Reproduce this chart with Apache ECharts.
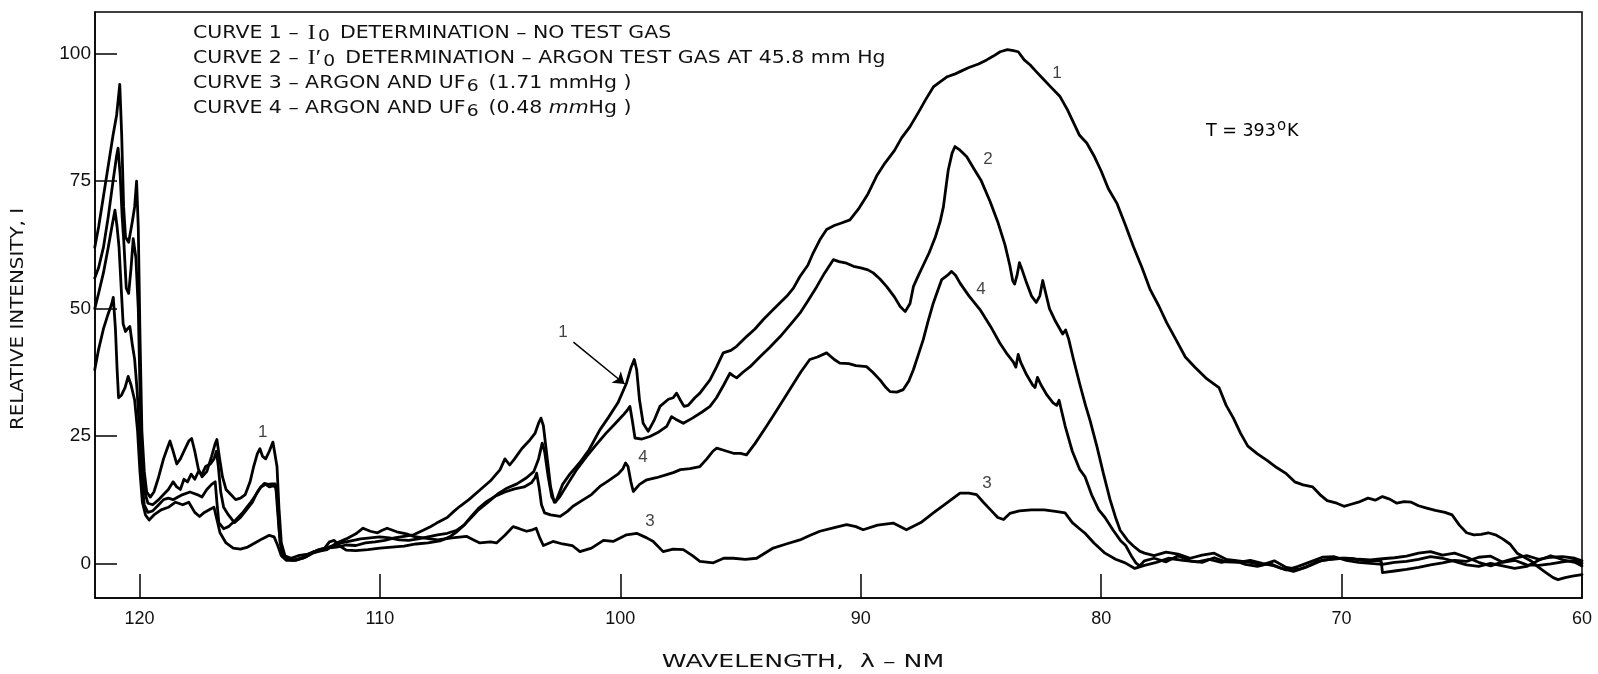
<!DOCTYPE html>
<html><head><meta charset="utf-8">
<script src="https://cdn.jsdelivr.net/npm/echarts@6/dist/echarts.min.js"></script>
<style>html,body{margin:0;padding:0;background:#fff}#c{width:1598px;height:674px}</style>
</head><body><div id="c"></div>
<script>
// ---- data: [wavelength nm, relative intensity] ----
const curve1 = [[121.86,62],[121.7,66],[121.5,72],[121.3,78],[121.1,84],[120.95,88],[120.82,94],[120.74,84],[120.66,70],[120.58,64],[120.45,63],[120.3,67],[120.2,70],[120.12,75],[120.05,66],[119.98,45],[119.9,26],[119.8,18],[119.7,14],[119.55,13],[119.4,14],[119.2,17],[119.0,20.5],[118.85,22.5],[118.73,24],[118.6,22],[118.45,19.5],[118.3,20.5],[118.1,22.5],[117.95,24],[117.83,24.5],[117.7,22],[117.55,18.5],[117.4,17],[117.2,18],[117.0,21],[116.85,23.5],[116.78,24.3],[116.68,21],[116.55,17],[116.4,14.5],[116.2,13.5],[116.0,12.5],[115.8,12.8],[115.6,13.5],[115.4,16],[115.25,19],[115.1,21.5],[114.99,22.5],[114.88,21],[114.75,20.5],[114.6,22],[114.45,23.8],[114.37,23.5],[114.28,19],[114.2,11],[114.1,4],[113.95,1.5],[113.7,1],[113.4,1.5],[113.0,1.8],[112.6,2.5],[112.2,3],[111.8,3.2],[111.4,3.6],[111.0,3.5],[110.6,4],[110.2,4.2],[109.8,4.5],[109.4,5],[109.0,5.3],[108.6,5.6],[108.2,6.5],[107.9,7.2],[107.64,7.9],[107.2,9],[106.9,10.3],[106.67,11.2],[106.3,12.5],[105.84,14.4],[105.4,16.2],[105.0,18.4],[104.8,20.5],[104.73,20.7],[104.6,19.3],[104.4,20.5],[104.1,22.5],[103.8,24],[103.55,25.5],[103.4,27.5],[103.3,28.5],[103.2,27],[103.05,21],[102.9,15],[102.75,12],[102.65,12.5],[102.4,15.5],[102.1,17.5],[101.7,19.7],[101.3,22.3],[100.85,26.2],[100.5,28.6],[100.1,31.5],[99.74,35.4],[99.55,38.5],[99.42,40],[99.32,38],[99.2,32],[99.05,27.5],[98.84,25.9],[98.6,28],[98.35,30.8],[98.0,32.2],[97.8,32.5],[97.66,33.4],[97.5,32],[97.35,30.8],[97.18,31],[96.9,32.5],[96.69,33.4],[96.27,36],[96.0,38.5],[95.72,41.3],[95.4,41.8],[95.16,42.6],[94.75,44.5],[94.4,46],[94.06,47.8],[93.64,49.8],[93.08,52.4],[92.8,54],[92.53,56.3],[92.2,58.5],[91.98,60.9],[91.7,63.5],[91.42,65.5],[91.1,66.3],[90.8,66.8],[90.45,67.4],[90.1,69.5],[89.7,72.5],[89.34,76],[89.0,78.5],[88.6,81],[88.3,83.5],[87.95,85.7],[87.6,88.5],[87.3,91],[86.98,93.5],[86.7,94.5],[86.4,95.5],[86.1,96],[85.87,96.5],[85.5,97.3],[85.1,98],[84.76,98.8],[84.5,99.5],[84.2,100.4],[83.9,100.8],[83.65,100.6],[83.45,100.4],[83.2,98.8],[82.95,97.8],[82.7,96.5],[82.4,95],[82.1,93.5],[81.71,91.6],[81.4,89],[81.15,86.5],[80.9,84],[80.6,82.5],[80.3,80],[80.0,77],[79.7,73.5],[79.35,70.7],[79.0,66.5],[78.66,62.2],[78.3,58],[77.96,53.7],[77.6,50.5],[77.27,47.2],[76.9,44],[76.5,40.5],[76.1,38.5],[75.6,36.2],[75.1,34.5],[74.8,31],[74.5,28.5],[74.2,25.5],[73.9,23],[73.5,21.5],[73.1,20.2],[72.7,18.8],[72.3,17.6],[71.95,16],[71.6,15.4],[71.2,15],[70.9,13.5],[70.6,12.3],[70.2,11.8],[69.9,11.2],[69.6,11.6],[69.3,12],[68.9,12.8],[68.6,12.4],[68.3,13.1],[68.0,12.6],[67.7,11.8],[67.4,12.1],[67.1,12],[66.8,11.3],[66.5,10.9],[66.1,10.4],[65.7,10],[65.4,9.5],[65.1,7.5],[64.8,6],[64.5,5.6],[64.2,5.7],[63.9,6.0],[63.6,5.6],[63.3,4.8],[63.0,3.8],[62.7,2.0],[62.4,1.2],[62.1,0.4],[61.8,-0.8],[61.5,-1.8],[61.2,-2.8],[61.0,-3.2],[60.7,-2.8],[60.4,-2.5],[60.0,-2.2]];

const curve2 = [[121.86,56],[121.7,58],[121.5,62],[121.3,68],[121.1,75],[120.95,80],[120.89,81.5],[120.8,76],[120.72,68],[120.65,63],[120.55,54],[120.45,53],[120.35,58],[120.26,63.7],[120.15,60],[120.05,50],[119.97,32],[119.88,20],[119.78,14],[119.65,11.8],[119.45,11.5],[119.2,12.5],[119.0,13.5],[118.8,14.5],[118.6,16],[118.45,15],[118.3,14.5],[118.15,16.5],[118.0,16],[117.85,17.5],[117.7,16.5],[117.55,18],[117.4,17.5],[117.25,19],[117.05,19.5],[116.9,20.5],[116.8,22],[116.72,19],[116.62,14],[116.5,11],[116.3,9.5],[116.05,8],[115.8,9],[115.55,10.5],[115.3,12],[115.1,14],[114.95,15],[114.8,15.7],[114.65,15.5],[114.5,15.6],[114.35,15.6],[114.27,13],[114.18,6],[114.08,2],[113.9,0.8],[113.6,0.6],[113.2,1.2],[112.8,2.2],[112.4,2.8],[112.0,3.4],[111.6,4],[111.2,4.4],[110.8,4.8],[110.4,5],[110.0,5.2],[109.6,5],[109.2,4.6],[108.8,4.5],[108.4,4.8],[108.0,5.2],[107.6,5.6],[107.2,5.9],[106.8,6.5],[106.5,7.5],[106.2,9],[105.9,10.5],[105.5,12],[105.1,13.6],[104.7,14.8],[104.3,15.6],[103.9,16.8],[103.6,18],[103.4,20.5],[103.25,23.6],[103.15,22],[103.0,17],[102.85,13],[102.7,12],[102.5,13.2],[102.2,15.5],[101.8,18.5],[101.4,21],[101.0,23.3],[100.6,25.5],[100.2,27.5],[99.9,29],[99.72,30],[99.6,30.8],[99.5,28],[99.39,24.6],[99.1,24.4],[98.77,24.9],[98.4,25.8],[98.07,26.9],[97.87,28.8],[97.7,28.3],[97.38,27.5],[97.0,28.5],[96.6,29.7],[96.27,30.8],[96.0,32.5],[95.7,35],[95.44,37.3],[95.3,36.8],[95.16,36.4],[94.9,37.5],[94.6,38.6],[94.2,40.5],[93.8,42.3],[93.35,44.5],[92.9,47],[92.53,49.1],[92.2,51.5],[91.83,54.3],[91.5,57],[91.14,59.6],[90.9,59.2],[90.59,58.9],[90.3,58.3],[90.0,58],[89.7,57.6],[89.48,57.0],[89.2,55.8],[88.92,54.3],[88.6,52.3],[88.36,50.4],[88.15,49.4],[87.95,51],[87.81,54.3],[87.6,56.5],[87.4,58.5],[87.15,61],[86.9,64],[86.7,67],[86.56,70],[86.45,74],[86.36,77.2],[86.2,80.5],[86.08,81.8],[85.9,81.2],[85.59,79.8],[85.3,77.5],[85.0,75.2],[84.62,71],[84.3,67],[84.0,62.5],[83.8,58.5],[83.68,55.5],[83.6,54.8],[83.5,56.5],[83.4,59],[83.28,57.5],[83.1,55],[82.9,52.5],[82.7,51.2],[82.55,52.5],[82.43,55.5],[82.33,53.5],[82.15,50],[81.9,47.5],[81.6,45],[81.48,45.8],[81.35,44],[81.15,40],[80.88,35],[80.65,31],[80.46,28],[80.18,23],[79.9,17.5],[79.63,12.5],[79.4,9],[79.21,6.5],[78.9,4.5],[78.66,3.4],[78.4,2.4],[78.2,2],[77.8,1.5],[77.3,2.2],[76.8,1.8],[76.3,1.0],[75.8,1.6],[75.3,2.0],[74.8,0.8],[74.3,0.5],[73.8,0.2],[73.3,-0.3],[72.8,0.5],[72.3,-0.8],[71.8,-1.2],[71.3,-0.4],[70.8,0.6],[70.3,0.9],[69.8,1.0],[69.3,0.8],[68.8,0.7],[68.3,0.9],[67.8,1.1],[67.3,1.4],[66.8,2.0],[66.3,2.3],[65.8,1.6],[65.3,2.0],[64.8,1.2],[64.3,0.2],[63.8,-0.5],[63.3,0.3],[62.8,1.0],[62.3,1.5],[61.8,0.8],[61.3,1.2],[60.8,1.3],[60.3,1.0],[60.0,0.5]];

const curve3 = [[121.86,38],[121.7,42],[121.5,46],[121.3,49],[121.15,51],[121.09,52.2],[121.0,46],[120.93,38],[120.87,32.5],[120.75,33],[120.6,34.5],[120.47,36.7],[120.35,35],[120.2,32],[120.08,26],[119.98,18],[119.88,12],[119.75,9.5],[119.6,8.5],[119.4,9.5],[119.1,10.5],[118.8,11],[118.5,12],[118.2,11.5],[117.95,12],[117.7,10],[117.5,9.2],[117.3,10],[117.1,10.5],[116.9,11],[116.8,9],[116.65,6],[116.4,4],[116.1,3],[115.8,2.8],[115.5,3.2],[115.2,4],[114.9,4.8],[114.6,5.5],[114.4,5.2],[114.25,3.5],[114.1,1.5],[113.9,0.6],[113.5,0.6],[113.1,1.2],[112.8,2.0],[112.5,2.4],[112.2,2.7],[111.8,4.0],[111.4,4.8],[111.0,5.8],[110.7,6.9],[110.4,6.3],[110.1,6.0],[109.9,6.5],[109.7,6.9],[109.3,6.2],[108.9,5.8],[108.6,5.3],[108.2,5],[107.6,4.6],[107.0,5],[106.4,5.3],[106.1,4.6],[105.84,4.0],[105.4,4.2],[105.15,4.0],[104.8,5.5],[104.46,7.2],[104.2,6.8],[103.9,6.3],[103.7,6.5],[103.5,6.9],[103.35,5],[103.2,3.5],[102.8,4.3],[102.4,3.8],[102.0,3.5],[101.68,2.3],[101.2,3],[100.7,4.5],[100.3,4.3],[99.74,5.6],[99.32,5.9],[98.9,5],[98.63,4.3],[98.22,2.3],[97.8,2.8],[97.38,2.7],[97.0,1.5],[96.69,0.4],[96.13,0.1],[95.7,1.0],[95.3,1.0],[94.8,0.8],[94.33,1.0],[93.64,3.0],[93.1,3.8],[92.53,4.6],[92.1,5.5],[91.7,6.3],[91.1,7],[90.59,7.6],[90.2,7.2],[89.9,6.6],[89.3,7.5],[88.65,7.9],[88.1,6.6],[87.5,8],[86.98,9.9],[86.43,11.8],[85.87,13.8],[85.5,13.8],[85.18,13.5],[84.9,12],[84.6,10.5],[84.3,9],[84.06,8.6],[83.8,9.8],[83.4,10.3],[82.9,10.5],[82.37,10.5],[81.9,10.2],[81.5,9.9],[81.2,8],[80.9,6.8],[80.67,5.9],[80.3,4],[79.84,2],[79.4,0.8],[79.0,0.1],[78.6,-1.0],[78.2,-0.4],[77.7,0.2],[77.2,1.0],[76.6,0.6],[76.0,0.3],[75.5,0.8],[75.0,0.2],[74.5,0.6],[74.0,-0.2],[73.5,-0.6],[73.0,0.0],[72.5,-1.0],[72.0,-1.6],[71.5,-0.8],[71.0,0.4],[70.5,0.8],[70.0,1.0],[69.5,0.9],[69.0,0.5],[68.5,0.6],[68.35,0.4],[68.3,-1.8],[67.8,-1.5],[67.3,-1.2],[66.8,-0.8],[66.3,-0.3],[65.8,0.1],[65.3,0.6],[64.8,0.4],[64.3,1.2],[63.8,1.4],[63.3,0.2],[62.8,0.6],[62.3,-0.3],[61.8,-0.4],[61.3,-0.1],[60.8,0.3],[60.3,0.6],[60.0,0.0]];

const curve4 = [[121.86,50],[121.7,53],[121.5,57],[121.3,62],[121.15,66],[121.02,69.3],[120.93,66],[120.85,62],[120.76,54],[120.68,47],[120.58,45.5],[120.5,46],[120.4,46.5],[120.3,43],[120.2,40],[120.1,34],[120.0,26],[119.9,16],[119.8,11.5],[119.65,10],[119.45,10.3],[119.2,11.5],[119.0,12.5],[118.8,12.8],[118.6,12.5],[118.4,13],[118.2,13.5],[117.9,14],[117.6,13.5],[117.4,13],[117.2,14.5],[117.0,15.5],[116.85,16],[116.78,12],[116.7,8],[116.5,6.8],[116.3,7.2],[116.0,8.5],[115.7,10],[115.4,11.8],[115.15,13.5],[114.95,15],[114.75,15.5],[114.6,15],[114.45,15.2],[114.33,15],[114.25,10],[114.15,4],[114.0,1.5],[113.8,0.8],[113.5,0.7],[113.2,1],[112.9,1.8],[112.6,2.6],[112.3,3],[112.1,4.2],[111.9,4.5],[111.7,3.5],[111.4,2.6],[111.0,2.5],[110.5,2.7],[110.0,3],[109.5,3.2],[109.0,3.4],[108.5,3.8],[108.0,4],[107.5,4.4],[107.1,5.2],[106.8,6.2],[106.5,7.5],[106.2,9.2],[105.9,10.8],[105.6,12],[105.2,13.2],[104.8,14],[104.4,14.6],[104.0,15],[103.7,15.8],[103.55,16.8],[103.48,17.7],[103.38,15],[103.28,11.5],[103.15,9.9],[102.9,9.5],[102.5,9.2],[102.2,10.2],[101.97,11.2],[101.6,12.3],[101.2,13.5],[100.85,15.1],[100.5,16.2],[100.1,17.5],[99.9,18.5],[99.78,19.7],[99.68,19],[99.56,16],[99.46,14.1],[99.2,15.5],[98.9,16.4],[98.5,16.8],[98.07,17.4],[97.8,17.8],[97.5,18.4],[97.1,18.6],[96.69,19.0],[96.4,20.5],[96.15,22],[95.99,22.6],[95.7,22.2],[95.3,21.6],[95.0,21.6],[94.75,21.3],[94.4,23.5],[93.92,26.9],[93.5,30],[92.95,34.1],[92.5,37.5],[92.12,40],[91.8,40.5],[91.42,41.3],[91.1,40],[90.87,39.3],[90.5,39.2],[90.2,38.8],[89.76,38.6],[89.5,37.5],[89.2,36],[88.95,34.5],[88.78,33.7],[88.5,33.6],[88.23,34.1],[88.0,35.8],[87.81,38],[87.6,41],[87.4,43.9],[87.2,47.5],[86.98,51.1],[86.8,53.5],[86.63,55.7],[86.4,56.5],[86.22,57.3],[86.05,56.5],[85.87,55],[85.5,52.5],[85.04,49.8],[84.6,46.5],[84.21,43.2],[83.9,41],[83.65,39.5],[83.55,38.5],[83.45,41],[83.35,39.5],[83.1,37],[82.85,35],[82.75,34.5],[82.65,36.5],[82.5,35],[82.25,33],[82.0,31.5],[81.85,31],[81.75,32],[81.6,29],[81.5,27],[81.2,22],[80.9,18.5],[80.67,17],[80.4,13.5],[80.1,10.5],[79.84,9],[79.5,6.5],[79.2,4.5],[78.98,3.5],[78.75,1.5],[78.56,0.1],[78.4,-0.5],[78.2,0.5],[77.8,1.0],[77.3,0.3],[76.8,1.5],[76.3,0.5],[75.8,0.2],[75.3,1.1],[74.8,0.3],[74.3,0.2],[73.8,0.6],[73.3,0.0],[72.8,-0.5],[72.3,-1.3],[71.8,-0.6],[71.3,0.3],[70.8,1.2],[70.3,1.3],[69.8,0.6],[69.3,0.2],[68.8,0.0],[68.3,-0.2],[67.8,0.2],[67.3,0.4],[66.8,0.8],[66.3,1.3],[65.8,1.0],[65.3,0.4],[64.8,-0.3],[64.3,-0.6],[63.8,0.0],[63.3,-0.5],[62.8,-1.0],[62.3,-0.6],[61.8,0.6],[61.3,1.5],[60.8,0.7],[60.3,0.2],[60.0,-0.5]];

const xTicks = [120, 110, 100, 90, 80, 70, 60];
const yTicks = [0, 25, 50, 75, 100];
// curve number labels: [wavelength, intensity, text]
const curveLabels = [[81.84, 96.1, '1'], [84.71, 79.2, '2'], [85.0, 53.7, '4'], [84.75, 15.8, '3'], [114.87, 25.8, '1'], [102.39, 45.4, '1'], [99.06, 20.9, '4'], [98.77, 8.2, '3']];
// arrow from label "1" to curve 1 near the 99.4 nm peak: [start, end]
const arrowCoords = [[101.95, 43.4], [99.82, 35.2]];
const legendLines = [
  '{t|CURVE 1 – }{i|I}{s|0}{t| DETERMINATION – NO TEST GAS}',
  '{t|CURVE 2 – }{i|I′}{s|0}{t| DETERMINATION – ARGON TEST GAS AT 45.8 mm Hg}',
  '{t|CURVE 3 – ARGON AND UF}{s|6}{t| (1.71 mmHg )}',
  '{t|CURVE 4 – ARGON AND UF}{s|6}{t| (0.48 }{it|mm}{t|Hg )}'
];
const tempText = '{t|T = 393}{p|o}{t|K}';
const xName = 'WAVELENGTH,  λ – NM';
const yName = 'RELATIVE INTENSITY, I';

const FONT = "'Liberation Sans', Arial, Helvetica, sans-serif";
const WFONT = "'DejaVu Sans', Verdana, sans-serif";
const rich = {
  t: {fontFamily: WFONT, fontSize: 17.5, color: '#111', lineHeight: 24},
  it: {fontFamily: WFONT, fontSize: 17.5, fontStyle: 'italic', color: '#111', lineHeight: 24},
  i: {fontFamily: "'Liberation Serif', 'DejaVu Serif', serif", fontSize: 21, color: '#111', lineHeight: 24, padding: [0, 1, 0, 2]},
  s: {fontFamily: WFONT, fontSize: 16, color: '#111', lineHeight: 14, padding: [11, 3, 0, 1], verticalAlign: 'bottom'},
  p: {fontFamily: WFONT, fontSize: 15, color: '#111', lineHeight: 13, padding: [0, 1, 11, 1], verticalAlign: 'top'}
};

const chart = echarts.init(document.getElementById('c'), null, {renderer: 'canvas'});
const lineSeries = [curve1, curve2, curve3, curve4].map((d, i) => ({
  type: 'line', name: 'Curve ' + (i + 1), data: d, showSymbol: false, symbol: 'none',
  lineStyle: {color: '#000', width: 2.8, join: 'round', cap: 'round'},
  z: 3, silent: true
}));

const graphics = legendLines.map((txt, i) => ({
  type: 'text', x: 193, y: 21 + i * 25, scaleX: 1.17,
  style: {text: txt, rich: rich, fill: '#111', align: 'left', verticalAlign: 'top'}
}));
graphics.push({type: 'text', x: 1206, y: 119, style: {text: tempText, rich: rich, align: 'left', verticalAlign: 'top'}});
graphics.push({type: 'text', x: 803, y: 662, scaleX: 1.4, style: {text: xName, font: '18px ' + WFONT, fill: '#111', align: 'center', verticalAlign: 'middle'}});
graphics.push({type: 'text', x: 19, y: 319, rotation: Math.PI / 2, scaleX: 1.17, style: {text: yName, font: '17px ' + WFONT, fill: '#111', align: 'center', verticalAlign: 'middle'}});

chart.setOption({
  animation: false,
  backgroundColor: '#fff',
  grid: {left: 95, right: 16, top: 12, bottom: 76, show: true, borderColor: '#000', borderWidth: 1.5, backgroundColor: 'transparent'},
  xAxis: {
    type: 'value', inverse: true, min: 60, max: 121.85,
    axisLine: {show: true, onZero: false, lineStyle: {color: '#000', width: 1.5}},
    axisTick: {show: true, inside: true, length: 24, customValues: xTicks, lineStyle: {color: '#000', width: 1.5}},
    axisLabel: {show: true, customValues: xTicks, margin: 12, fontSize: 18, fontFamily: FONT, color: '#111'},
    splitLine: {show: false}
  },
  yAxis: {
    type: 'value', min: -6.8, max: 108.2,
    axisLine: {show: true, onZero: false, lineStyle: {color: '#000', width: 1.5}},
    axisTick: {show: true, inside: true, length: 22, customValues: yTicks, lineStyle: {color: '#000', width: 1.5}},
    axisLabel: {show: true, customValues: yTicks, margin: 4, fontSize: 19, fontFamily: FONT, color: '#111'},
    splitLine: {show: false}
  },
  series: lineSeries.concat([
    {
      type: 'scatter', data: curveLabels, symbolSize: 1, itemStyle: {color: 'rgba(0,0,0,0)'}, silent: true, z: 5,
      label: {show: true, position: 'inside', formatter: p => p.value[2], fontSize: 17, fontFamily: FONT, color: '#111'}
    },
    {
      type: 'lines', coordinateSystem: 'cartesian2d', silent: true, z: 5,
      data: [{coords: arrowCoords}],
      symbol: ['none', 'arrow'], symbolSize: 11,
      lineStyle: {color: '#000', width: 1.5, curveness: 0, opacity: 1}
    }
  ]),
  graphic: graphics
});
</script>
</body></html>
